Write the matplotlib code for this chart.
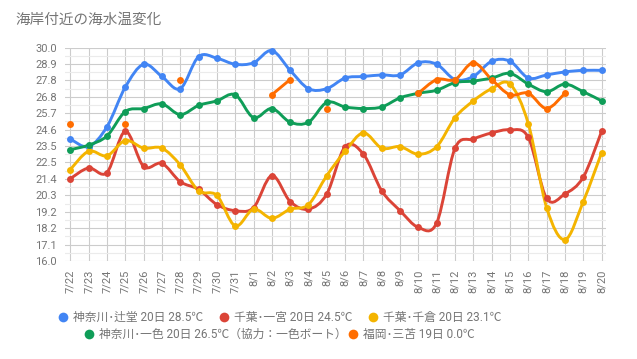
import numpy as np
import matplotlib
matplotlib.use('Agg')
import matplotlib.pyplot as plt
from matplotlib.path import Path
from matplotlib.patches import PathPatch
from matplotlib.lines import Line2D

plt.rcParams['font.family'] = ['Roboto', 'Noto Sans CJK JP', 'DejaVu Sans']

# データ
dates = ['7/22', '7/23', '7/24', '7/25', '7/26', '7/27', '7/28', '7/29', '7/30', '7/31',
         '8/1', '8/2', '8/3', '8/4', '8/5', '8/6', '8/7', '8/8', '8/9', '8/10',
         '8/11', '8/12', '8/13', '8/14', '8/15', '8/16', '8/17', '8/18', '8/19', '8/20']

tsujido = [24.0, 23.5, 24.8, 27.4, 28.9, 28.1, 27.3, 29.4, 29.3, 28.9,
           29.0, 29.8, 28.5, 27.3, 27.3, 28.0, 28.1, 28.2, 28.2, 29.0,
           28.9, 27.9, 28.1, 29.1, 29.1, 28.0, 28.2, 28.4, 28.5, 28.5]
ichinomiya = [21.4, 22.1, 21.8, 24.5, 22.2, 22.4, 21.2, 20.7, 19.7, 19.3,
              19.5, 21.6, 19.9, 19.4, 20.4, 23.5, 23.0, 20.6, 19.3, 18.2,
              18.5, 23.4, 24.0, 24.4, 24.6, 24.1, 20.1, 20.4, 21.5, 24.5]
chikura = [22.0, 23.2, 22.9, 23.9, 23.4, 23.4, 22.3, 20.6, 20.3, 18.3,
           19.4, 18.8, 19.4, 19.7, 21.6, 23.2, 24.4, 23.4, 23.5, 23.0,
           23.5, 25.4, 26.5, 27.3, 27.6, 25.0, 19.5, 17.4, 19.9, 23.1]
isshiki = [23.3, 23.6, 24.2, 25.8, 26.0, 26.3, 25.6, 26.2, 26.5, 26.9,
           25.4, 26.0, 25.1, 25.1, 26.4, 26.1, 26.0, 26.1, 26.7, 27.0,
           27.2, 27.7, 27.8, 28.0, 28.3, 27.6, 27.1, 27.6, 27.1, 26.5]
mitoma = [25.0, None, None, 25.0, None, None, 27.9, None, None, None,
          None, 26.9, 27.9, None, 26.0, None, None, None, None, 27.0,
          27.9, 27.9, 29.0, 27.9, 26.9, 27.0, 26.0, 27.0, None, None]

labels = ['神奈川･辻堂 20日 28.5℃', '千葉･一宮 20日 24.5℃', '千葉･千倉 20日 23.1℃',
          '神奈川･一色 20日 26.5℃（協力：一色ボート）', '福岡･三苫 19日 0.0℃']
colors = ['#4285F4', '#DB4437', '#F4B400', '#0F9D58', '#FF6D00']
series = [tsujido, ichinomiya, chikura, isshiki, mitoma]


def smooth_path(xs, ys):
    # Catmull-Rom -> ベジェ曲線
    n = len(xs)
    verts = [(xs[0], ys[0])]
    codes = [Path.MOVETO]
    for i in range(n - 1):
        x0, y0 = (xs[i - 1], ys[i - 1]) if i > 0 else (xs[i], ys[i])
        x1, y1 = xs[i], ys[i]
        x2, y2 = xs[i + 1], ys[i + 1]
        x3, y3 = (xs[i + 2], ys[i + 2]) if i + 2 < n else (x2, y2)
        c1 = (x1 + (x2 - x0) / 6, y1 + (y2 - y0) / 6)
        c2 = (x2 - (x3 - x1) / 6, y2 - (y3 - y1) / 6)
        verts += [c1, c2, (x2, y2)]
        codes += [Path.CURVE4] * 3
    return Path(verts, codes)


fig = plt.figure(figsize=(6.37, 3.59), dpi=100)
ax = fig.add_axes([65 / 637, 1 - 261 / 359, 541 / 637, 213.5 / 359])

x = np.arange(len(dates))
for vals, col in zip(series, colors):
    # 連続区間ごとに曲線を描く
    runs, cur = [], []
    for i, v in enumerate(vals):
        if v is None:
            if cur:
                runs.append(cur)
            cur = []
        else:
            cur.append(i)
    if cur:
        runs.append(cur)
    for r in runs:
        if len(r) > 1:
            p = smooth_path([x[i] for i in r], [vals[i] for i in r])
            ax.add_patch(PathPatch(p, fill=False, edgecolor=col, lw=2.1,
                                   capstyle='round', joinstyle='round', zorder=3))
    xv = [x[i] for i, v in enumerate(vals) if v is not None]
    yv = [v for v in vals if v is not None]
    ax.plot(xv, yv, 'o', color=col, ms=5, mec='none', zorder=4)

yticks = 16 + np.arange(14) * 14 / 13
ax.set_ylim(16, 30)
ax.set_xlim(-0.29, 29.24)
ax.set_yticks(yticks)
ax.set_yticklabels([f'{v:.1f}' for v in yticks])
ax.set_yticks(16 + (np.arange(13) + 0.5) * 14 / 13, minor=True)
ax.set_xticks(x)
ax.set_xticklabels(dates, rotation=90)
ax.tick_params(axis='both', length=0, labelsize=8, colors='#757575', pad=6)
ax.tick_params(axis='y', which='minor', length=0)
ax.grid(True, which='major', color='#cccccc', lw=0.8, zorder=0)
ax.grid(True, which='minor', axis='y', color='#ebebeb', lw=0.8, zorder=0)
for s in ax.spines.values():
    s.set_visible(False)

fig.text(15 / 637, 1 - 20 / 359, '海岸付近の海水温変化', fontsize=10.5,
         color='#757575', va='center', ha='left')

# 凡例
leg_pos = [(63, 317), (224, 317), (373, 317), (89, 334), (353, 334)]
for (px, py), lab, col in zip(leg_pos, labels, colors):
    fig.add_artist(Line2D([px / 637], [1 - py / 359], marker='o', ms=7,
                          color=col, mec='none', transform=fig.transFigure))
    fig.text((px + 10) / 637, 1 - py / 359, lab, fontsize=8.5, color='#757575',
             va='center', ha='left')

fig.savefig('out.png', dpi=100)
